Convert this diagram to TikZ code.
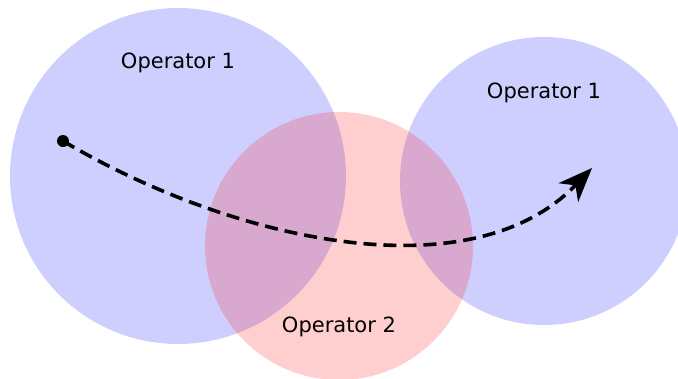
\documentclass[tikz,border=0pt]{standalone}
\usepackage{fontspec}
\setmainfont{DejaVu Sans}
\usetikzlibrary{arrows.meta}

\begin{document}
\begin{tikzpicture}[
        x=1pt, y=-1pt,
        font=\fontsize{21}{24}\selectfont,
        region/.style={
            circle, inner sep=0pt, fill opacity=0.19, text opacity=1
        },
        trajectory/.style={
            line width=3.6pt, dash pattern=on 13pt off 7pt,
            -{Stealth[length=34pt,width=27pt,inset=10pt]}
        }
    ]
        \useasboundingbox (0,0) rectangle (678,378);

        % Regiones de los operadores
        \node[region, fill=blue, minimum size=336pt] (opA) at (178,176) {};
        \node[region, fill=blue, minimum size=288pt] (opB) at (544,181) {};
        \node[region, fill=red, minimum size=268pt] (opC) at (339,246) {};

        % Etiquetas
        \node (labA) at (178,63) {Operator 1};
        \node (labB) at (544,93) {Operator 1};
        \node (labC) at (339,327) {Operator 2};

        % Trayectoria
        \coordinate (start) at (63,141);
        \coordinate (goal) at (592,168);
        \fill (start) circle (6pt);
        \draw[trajectory] (start) .. controls (230,240) and (470,295) .. (goal);

    \end{tikzpicture}
\end{document}
